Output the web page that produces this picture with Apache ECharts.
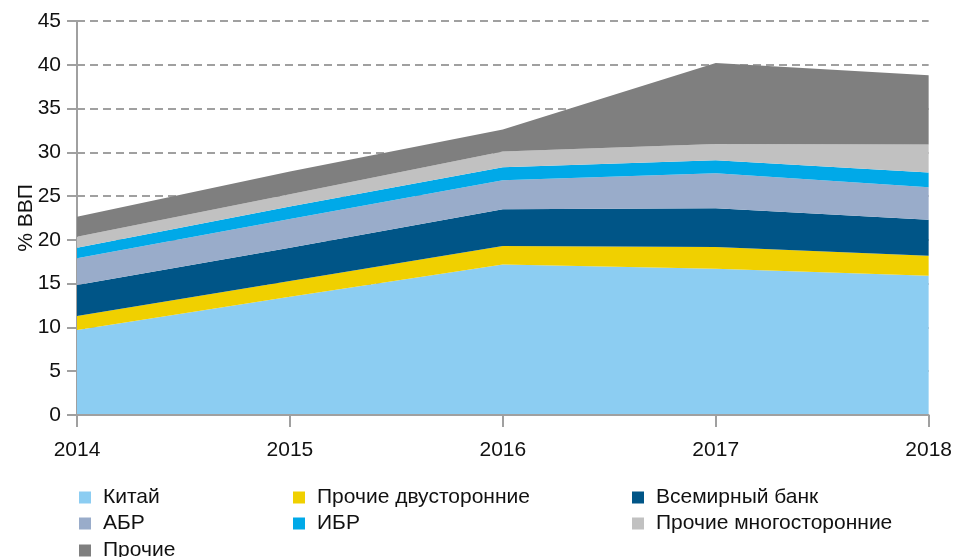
<!DOCTYPE html>
<html>
<head>
<meta charset="utf-8">
<script src="https://cdn.jsdelivr.net/npm/echarts@6/dist/echarts.min.js"></script>
<style>
  html, body { margin: 0; padding: 0; background: #fff; }
  #chart { width: 955px; height: 557px; }
</style>
</head>
<body>
<div id="chart"></div>
<script>
// years on the x axis
const years = ['2014', '2015', '2016', '2017', '2018'];

// stacked shares, % of GDP
const china = [9.7, 13.5, 17.2, 16.7, 15.9];
const otherBilateral = [1.6, 1.8, 2.1, 2.5, 2.3];
const worldBank = [3.55, 3.8, 4.2, 4.4, 4.1];
const adb = [3.05, 3.3, 3.3, 4.0, 3.7];
const idb = [1.2, 1.4, 1.5, 1.5, 1.7];
const otherMultilateral = [1.25, 1.4, 1.8, 1.85, 3.2];
const others = [2.3, 2.6, 2.5, 9.25, 7.9];

const seriesDefs = [
  { name: 'Китай', data: china, color: '#8ccdf2' },
  { name: 'Прочие двусторонние', data: otherBilateral, color: '#f0d000' },
  { name: 'Всемирный банк', data: worldBank, color: '#005587' },
  { name: 'АБР', data: adb, color: '#99acca' },
  { name: 'ИБР', data: idb, color: '#00a9e8' },
  { name: 'Прочие многосторонние', data: otherMultilateral, color: '#c1c1c1' },
  { name: 'Прочие', data: others, color: '#7f7f7f' }
];

// legend grid: [name, column, row]
const legendItems = [
  ['Китай', 0, 0], ['Прочие двусторонние', 1, 0], ['Всемирный банк', 2, 0],
  ['АБР', 0, 1], ['ИБР', 1, 1], ['Прочие многосторонние', 2, 1],
  ['Прочие', 0, 2]
];
const legendLeft = [74, 288, 627];
const legendTop = [482, 508, 535];

const font = 'Liberation Sans, Arial, sans-serif';
const axisGray = '#a0a0a0';

const chart = echarts.init(document.getElementById('chart'));

const option = {
  backgroundColor: '#fff',
  animation: false,
  color: seriesDefs.map(s => s.color),
  grid: { left: 77, right: 21, top: 21, bottom: 142, containLabel: false },
  legend: legendItems.map(([name, col, row]) => ({
    left: legendLeft[col],
    top: legendTop[row],
    itemWidth: 12,
    itemHeight: 12,
    icon: 'rect',
    selectedMode: false,
    textStyle: { fontFamily: font, fontSize: 21, color: '#111', padding: [0, 0, 0, 7] },
    data: [name]
  })),
  xAxis: {
    type: 'category',
    data: years,
    boundaryGap: false,
    z: 10,
    axisLine: { lineStyle: { color: axisGray, width: 2 } },
    axisTick: { length: 12, lineStyle: { color: axisGray, width: 2 } },
    axisLabel: { margin: 25, fontFamily: font, fontSize: 21, color: '#111' },
    splitLine: { show: false }
  },
  yAxis: {
    type: 'value',
    min: 0,
    max: 45,
    interval: 5,
    name: '% ВВП',
    nameLocation: 'middle',
    nameGap: 40,
    nameMoveOverlap: false,
    nameTextStyle: { fontFamily: font, fontSize: 21, color: '#111' },
    axisLine: { show: true, lineStyle: { color: axisGray, width: 2 } },
    axisTick: { show: true, length: 10, lineStyle: { color: axisGray, width: 2 } },
    axisLabel: { margin: 16, fontFamily: font, fontSize: 21, color: '#111' },
    splitLine: { lineStyle: { color: axisGray, width: 2, type: [8, 5] } }
  },
  series: seriesDefs.map(s => ({
    name: s.name,
    type: 'line',
    stack: 'total',
    data: s.data,
    symbol: 'none',
    lineStyle: { width: 0 },
    areaStyle: { color: s.color, opacity: 1 },
    itemStyle: { color: s.color }
  }))
};

chart.setOption(option);
</script>
</body>
</html>
